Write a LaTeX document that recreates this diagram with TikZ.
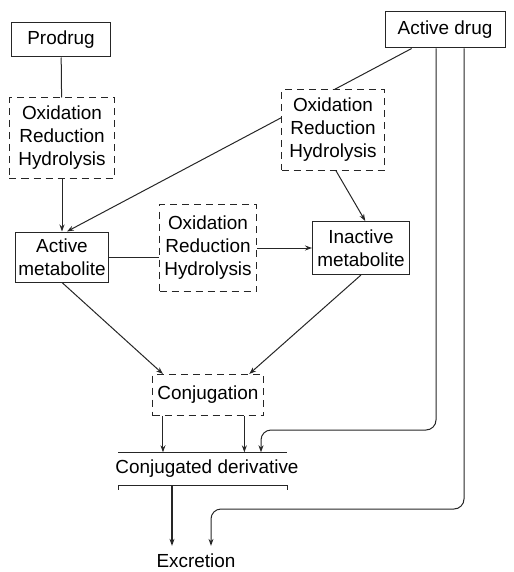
\documentclass[tikz,border=0pt]{standalone}
\usepackage{fontspec}
\setmainfont{Liberation Sans}
\usetikzlibrary{arrows.meta,backgrounds}

\begin{document}
\begin{tikzpicture}[x=1bp,y=-1bp,font=\fontsize{19}{23}\selectfont]
\useasboundingbox (0,0) rectangle (514,572);

\begin{scope}[every node/.style={rectangle,draw=black!85,line width=1bp,fill=white,align=center,inner sep=2bp}]
    \node[minimum width=98bp,minimum height=34bp] (prodrug) at (61,40) {Prodrug};
    \node[minimum width=120bp,minimum height=36bp] (activedrug) at (445,30) {Active drug};
    \node[minimum width=93bp,minimum height=50bp] (actmet) at (62,257) {Active\\metabolite};
    \node[minimum width=97bp,minimum height=53bp] (inactmet) at (361,248) {Inactive\\metabolite};
\end{scope}

\begin{scope}[every node/.style={rectangle,draw=black!85,line width=1bp,dash pattern=on 7bp off 5bp,fill=white,align=center,inner sep=2bp}]
    \node[minimum width=105bp,minimum height=80bp] (oxleft) at (62,138) {Oxidation\\Reduction\\Hydrolysis};
    \node[minimum width=103bp,minimum height=80bp] (oxright) at (333,130) {Oxidation\\Reduction\\Hydrolysis};
    \node[minimum width=97bp,minimum height=87bp] (oxmid) at (208,248) {Oxidation\\Reduction\\Hydrolysis};
    \node[minimum width=111bp,minimum height=41bp] (conj) at (208,395) {Conjugation};
\end{scope}

\node[minimum height=33bp,inner sep=0pt] (conjder) at (207,469) {Conjugated derivative};
\node[inner sep=8bp] (excr) at (196,561) {Excretion};

\begin{scope}[>={Stealth[length=7bp,width=5bp]},draw=black!85,line width=1bp,
              every edge/.style={draw=black!85,line width=1bp}]
    % bracket round the conjugated derivative
    \draw (conjder.north -| 118,0) -- (conjder.north -| 287,0);
    \draw ([yshift=-4bp]conjder.south -| 118,0) -- (conjder.south -| 118,0)
          -- (conjder.south -| 287,0) -- ([yshift=-4bp]conjder.south -| 287,0);

    \path (prodrug) edge (oxleft);
    \path [->] (oxleft) edge (actmet);
    \path [->] (oxright.-86) edge (inactmet.81);
    \path (actmet.east) edge (actmet.east -| oxmid.west);
    \path [->] (oxmid.east) edge (oxmid.east -| inactmet.west);
    \path [->] (actmet.south) edge (conj.155);
    \path [->] (inactmet.south) edge (conj.27);
    \path [->] (conj.205) edge (conj.205 |- conjder.north);
    \path [->] (conj.-30) edge (conj.-30 |- conjder.north);
    \path [->] (conjder.south -| 172,0) edge[line width=1.4bp] (excr.north -| 172,0);

    \draw [->,rounded corners=10bp] (activedrug.south -| 436,0) -- (436,430)
          -- (261,430) -- (conjder.north -| 261,0);
    \draw [->,rounded corners=10bp] (activedrug.south -| 464,0) -- (464,509)
          -- (211,509) -- (excr.north -| 211,0);

    \begin{pgfonlayer}{background}
        \path [->] (activedrug.209) edge (actmet.79);
    \end{pgfonlayer}
\end{scope}
\end{tikzpicture}
\end{document}
